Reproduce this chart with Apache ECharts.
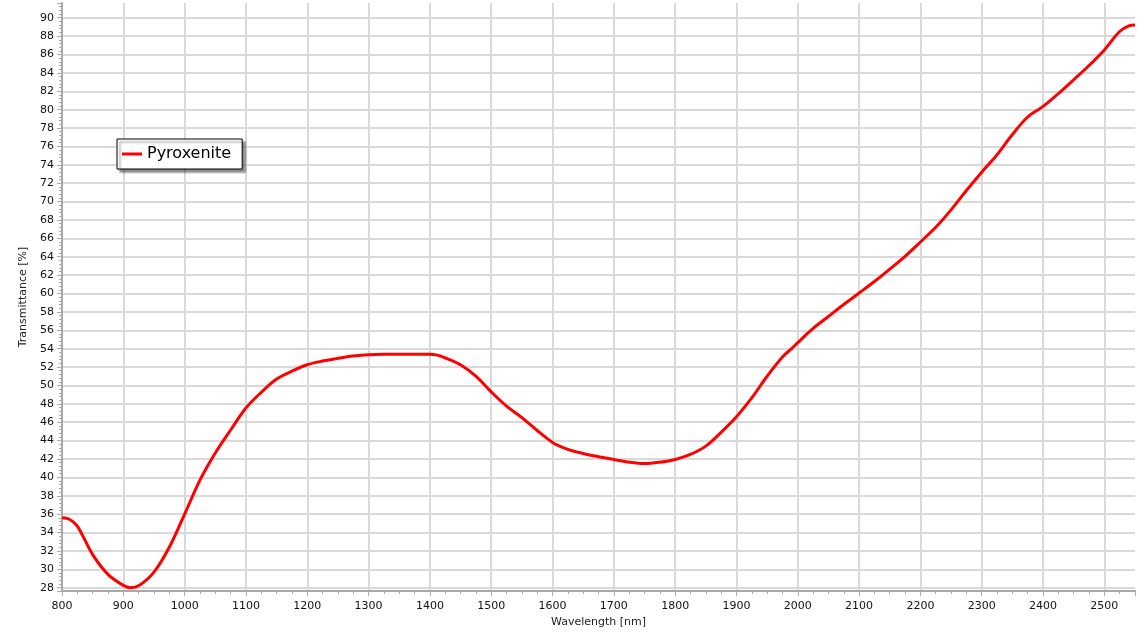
<!DOCTYPE html>
<html>
<head>
<meta charset="utf-8">
<script src="https://cdn.jsdelivr.net/npm/echarts@6/dist/echarts.min.js"></script>
<style>
html,body{margin:0;padding:0;background:#fff;}
#chart{width:1147px;height:635px;}
</style>
</head>
<body>
<div id="chart"></div>
<script>
var seriesName = 'Pyroxenite';
var wavelengths = [800, 812, 825, 850, 875, 900, 912, 925, 950, 975, 1000, 1025, 1050, 1075, 1100, 1125, 1150, 1175, 1200, 1225, 1250, 1275, 1300, 1325, 1350, 1375, 1400, 1412, 1425, 1450, 1475, 1500, 1525, 1550, 1575, 1600, 1625, 1650, 1675, 1700, 1725, 1750, 1775, 1800, 1825, 1850, 1875, 1900, 1925, 1950, 1975, 1990, 2000, 2025, 2050, 2075, 2100, 2125, 2150, 2175, 2200, 2225, 2250, 2275, 2300, 2325, 2350, 2375, 2400, 2425, 2450, 2475, 2500, 2525, 2540, 2550];
var transmittance = [35.6, 35.45, 34.7, 31.6, 29.45, 28.25, 28.0, 28.2, 29.7, 32.4, 36.0, 39.7, 42.65, 45.15, 47.55, 49.25, 50.7, 51.55, 52.25, 52.65, 52.95, 53.2, 53.35, 53.4, 53.4, 53.4, 53.4, 53.3, 53.0, 52.25, 51.0, 49.3, 47.75, 46.5, 45.1, 43.8, 43.05, 42.6, 42.25, 41.95, 41.65, 41.5, 41.65, 41.95, 42.5, 43.4, 44.9, 46.6, 48.65, 51.0, 53.1, 54.0, 54.65, 56.2, 57.5, 58.8, 60.05, 61.3, 62.65, 64.05, 65.6, 67.2, 69.1, 71.2, 73.2, 75.1, 77.3, 79.2, 80.35, 81.75, 83.25, 84.8, 86.5, 88.5, 89.1, 89.2];
var xMin = 800, xMax = 2550, xStep = 100;
var yMin = 27.64, yMax = 91.6, yLabelStep = 2;

var points = wavelengths.map(function (w, i) { return [w, transmittance[i]]; });

var chart = echarts.init(document.getElementById('chart'), null, {renderer: 'canvas'});
var font = 'DejaVu Sans, Verdana, sans-serif';
chart.setOption({
  animation: false,
  backgroundColor: '#ffffff',
  grid: {left: 62, right: 12, top: 3, bottom: 44, containLabel: false},
  legend: {
    left: 117, top: 139,
    data: [{name: seriesName, icon: 'rect'}],
    backgroundColor: '#ffffff',
    borderColor: '#000000',
    borderWidth: 1,
    borderRadius: 0,
    padding: [7, 11, 7, 5],
    shadowColor: 'rgba(0,0,0,0.45)',
    shadowBlur: 2,
    shadowOffsetX: 3,
    shadowOffsetY: 3,
    itemWidth: 20,
    itemHeight: 3,
    itemStyle: {color: '#ff0000'},
    textStyle: {fontFamily: font, fontSize: 16, color: '#000'}
  },
  xAxis: {
    type: 'value',
    min: xMin, max: xMax, interval: xStep,
    name: 'Wavelength [nm]',
    nameLocation: 'middle',
    nameGap: 24,
    nameTextStyle: {fontFamily: font, fontSize: 11, color: '#222'},
    axisLine: {show: true, onZero: false, lineStyle: {color: '#a8a8a8', width: 2}},
    axisTick: {show: true, length: 5, lineStyle: {color: '#a8a8a8', width: 1}},
    minorTick: {show: true, splitNumber: 4, length: 3, lineStyle: {color: '#a8a8a8', width: 1}},
    axisLabel: {fontFamily: font, fontSize: 11, color: '#111', margin: 10,
      formatter: function (v) { return (v % 100 === 0) ? String(v) : ''; }},
    splitLine: {show: true, showMaxLine: false, lineStyle: {color: '#d9d9d9', width: 2}}
  },
  yAxis: {
    type: 'value',
    min: yMin, max: yMax, splitNumber: 32,
    name: 'Transmittance [%]',
    nameLocation: 'middle',
    nameGap: 33,
    nameTextStyle: {fontFamily: font, fontSize: 11, color: '#222'},
    axisLine: {show: true, onZero: false, lineStyle: {color: '#a8a8a8', width: 2}},
    axisTick: {show: true, length: 5, lineStyle: {color: '#a8a8a8', width: 1}},
    minorTick: {show: true, splitNumber: 5, length: 3, lineStyle: {color: '#a8a8a8', width: 1}},
    axisLabel: {fontFamily: font, fontSize: 11, color: '#111', margin: 8,
      formatter: function (v) {
        var r = Math.round(v);
        return (Math.abs(v - r) < 1e-6 && r % yLabelStep === 0) ? String(r) : '';
      }},
    splitLine: {show: true, showMinLine: false, showMaxLine: false, lineStyle: {color: '#d9d9d9', width: 2}}
  },
  series: [{
    name: seriesName,
    type: 'line',
    data: points,
    smooth: 0.35,
    symbol: 'none',
    lineStyle: {color: '#ff0000', width: 3},
    itemStyle: {color: '#ff0000'}
  }]
});
</script>
</body>
</html>
